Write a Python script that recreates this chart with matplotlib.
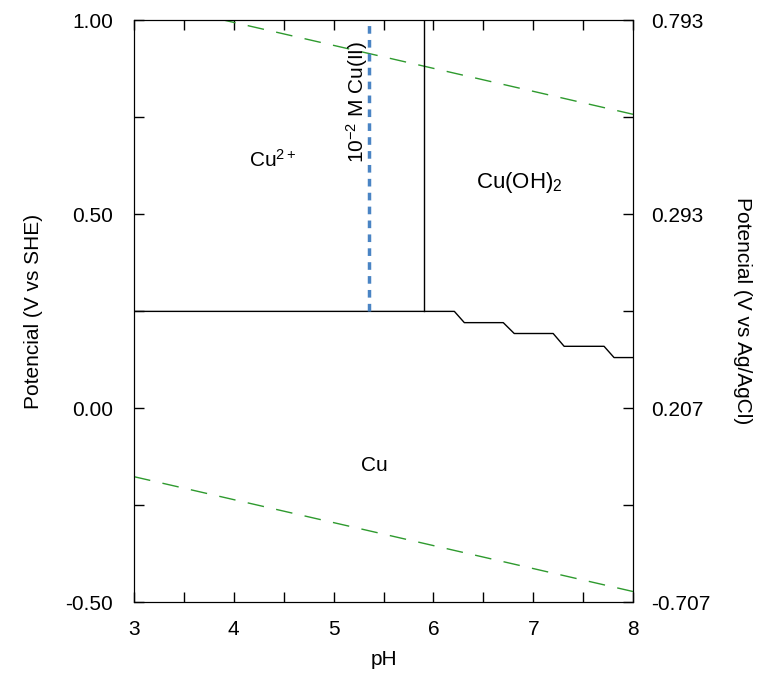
import matplotlib
matplotlib.use("Agg")
import matplotlib.pyplot as plt
import numpy as np

plt.rcParams['font.family'] = ['Liberation Sans', 'DejaVu Sans']
plt.rcParams['mathtext.fontset'] = 'custom'
plt.rcParams['mathtext.rm'] = 'Liberation Sans'
plt.rcParams['mathtext.it'] = 'Liberation Sans:italic'
plt.rcParams['mathtext.bf'] = 'Liberation Sans:bold'

# Data
ph_water = [3.0, 8.0]
e_o2 = [1.053, 0.757]       # upper water line
e_h2 = [-0.177, -0.473]     # lower water line

# Cu / Cu2+ / Cu(OH)2 boundary (stepped)
ph_cu = [3.0, 6.21, 6.31, 6.70, 6.81, 7.20, 7.31, 7.71, 7.81, 8.0]
e_cu = [0.249, 0.249, 0.220, 0.220, 0.192, 0.192, 0.159, 0.159, 0.130, 0.130]

ph_vert = 5.906            # Cu2+ / Cu(OH)2
e_vert = [0.249, 1.0]
ph_blue = 5.355            # 10^-2 M Cu(II) marker
e_blue = [0.249, 1.0]

left_ticks = [-0.5, 0.0, 0.5, 1.0]
left_labels = ['-0.50', '0.00', '0.50', '1.00']
right_labels = ['-0.707', '0.207', '0.293', '0.793']
x_ticks = [3, 4, 5, 6, 7, 8]

FS = 15

fig = plt.figure(figsize=(7.58, 6.92), dpi=100)
ax = fig.add_axes([134/758, 1-602/692, (633-134)/758, (602-20)/692])

ax.plot(ph_water, e_o2, color='#2e9a2e', lw=1.0, dashes=(12, 9))
ax.plot(ph_water, e_h2, color='#2e9a2e', lw=1.0, dashes=(12, 9))
ax.plot(ph_cu, e_cu, color='black', lw=1.0)
ax.plot([ph_vert, ph_vert], e_vert, color='black', lw=1.0)
ax.plot([ph_blue, ph_blue], e_blue, color='#4a84c4', lw=2.5, dashes=(2.2, 1.8))

ax.set_xlim(3, 8)
ax.set_ylim(-0.5, 1.0)
ax.set_xticks(x_ticks)
ax.set_xticks(np.arange(3.5, 8, 1.0), minor=True)
ax.set_yticks(left_ticks)
ax.set_yticklabels(left_labels)
ax.set_yticks([-0.25, 0.25, 0.75], minor=True)
ax.tick_params(which='both', direction='in', length=7, width=1, top=True, labelsize=FS)
ax.tick_params(axis='x', pad=13)
ax.tick_params(axis='y', pad=15)

ax.set_xlabel('pH', fontsize=FS, labelpad=8)
ax.set_ylabel('Potencial (V vs SHE)', fontsize=FS, labelpad=16)

ax2 = ax.twinx()
ax2.set_ylim(-0.5, 1.0)
ax2.set_yticks(left_ticks)
ax2.set_yticklabels(right_labels)
ax2.set_yticks([-0.25, 0.25, 0.75], minor=True)
ax2.tick_params(which='both', direction='in', length=7, width=1, labelsize=FS, pad=13)
ax2.set_ylabel('Potencial (V vs Ag/AgCl)', fontsize=FS, rotation=270, labelpad=30)

ax.text(4.39, 0.64, 'Cu$^{2+}$', fontsize=FS, ha='center', va='center')
ax.text(6.86, 0.58, 'Cu(OH)$_2$', fontsize=16, ha='center', va='center')
ax.text(5.41, -0.147, 'Cu', fontsize=FS, ha='center', va='center')
ax.text(5.23, 0.79, '10$^{\\mathregular{-2}}$ M Cu(II)', fontsize=FS, ha='center', va='center', rotation=90)

fig.savefig('out.png', dpi=100)
